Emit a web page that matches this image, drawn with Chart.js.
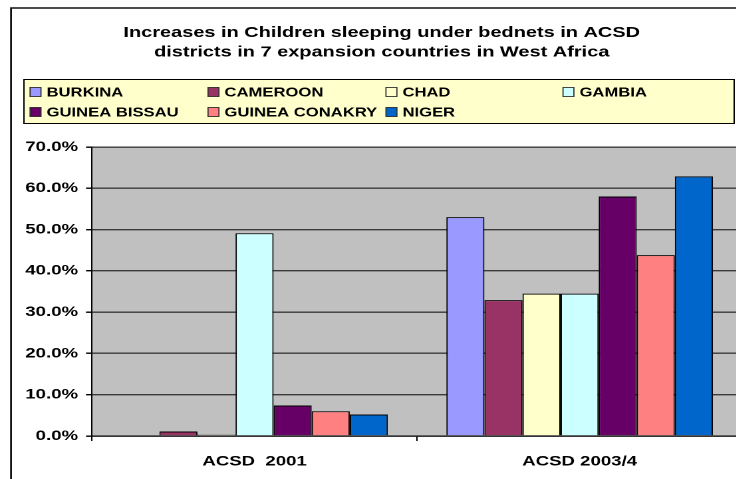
<!DOCTYPE html>
<html>
<head>
<meta charset="utf-8">
<title>Children sleeping under bednets – ACSD districts</title>
<script src="https://cdn.jsdelivr.net/npm/chart.js@4/dist/chart.umd.min.js"></script>
<style>
  html, body { margin: 0; padding: 0; background: #fff; overflow: hidden; width: 736px; height: 479px; }
  /* the chart is laid out narrow and widened, which gives the broad lettering */
  #wrap { position: absolute; left: 0; top: 0; width: 560px; height: 479px;
          transform: scaleX(1.33); transform-origin: 0 0; }
</style>
</head>
<body>
<div id="wrap"><canvas id="chart" width="560" height="479"></canvas></div>
<script>
// Survey rounds (x categories)
const rounds = ['ACSD  2001', 'ACSD 2003/4'];

// Countries, in legend order
const countries = ['BURKINA', 'CAMEROON', 'CHAD', 'GAMBIA', 'GUINEA BISSAU', 'GUINEA CONAKRY', 'NIGER'];

// Share of children sleeping under bednets (%), per country: [2001, 2003/4]
const burkina       = [0.0, 53.0];
const cameroon      = [1.1, 32.9];
const chad          = [0.3, 34.5];
const gambia        = [49.1, 34.5];
const guineaBissau  = [7.4, 58.0];
const guineaConakry = [6.0, 43.8];
const niger         = [5.2, 62.9];

const seriesValues = [burkina, cameroon, chad, gambia, guineaBissau, guineaConakry, niger];

// Classic office palette
const fillColours = ['#9999ff', '#993366', '#ffffcc', '#ccffff', '#660066', '#ff8080', '#0066cc'];

// Y axis ticks (%)
const yMin = 0, yMax = 70, yStep = 10;

const FONT = '"Liberation Sans", Arial, Helvetica, sans-serif';

// Page frame, grey plot background and the boxed legend
const decorations = {
  id: 'decorations',
  beforeDraw(chart) {
    const ctx = chart.ctx;
    const a = chart.chartArea;
    ctx.save();
    ctx.fillStyle = '#ffffff';
    ctx.fillRect(0, 0, chart.width, chart.height);
    // outer frame
    ctx.strokeStyle = '#111';
    ctx.lineWidth = 1.4;
    ctx.beginPath();
    ctx.moveTo(8.3, chart.height + 2);
    ctx.lineTo(8.3, 8);
    ctx.lineTo(chart.width + 2, 8);
    ctx.stroke();
    // plot background
    ctx.fillStyle = '#c0c0c0';
    ctx.fillRect(a.left, a.top, a.right - a.left, a.bottom - a.top);
    ctx.restore();
  },
  afterDraw(chart) {
    const ctx = chart.ctx;
    ctx.save();
    // legend box
    ctx.fillStyle = '#ffffcc';
    ctx.fillRect(18, 79, 534, 44);
    ctx.strokeStyle = '#000';
    ctx.lineWidth = 1;
    ctx.strokeRect(18, 79.5, 534, 44);
    const colX = [22.6, 156.4, 290.2, 423.3];
    const rowY = [92, 112];
    ctx.font = 'bold 12.5px ' + FONT;
    ctx.textBaseline = 'middle';
    ctx.textAlign = 'left';
    chart.data.datasets.forEach((ds, i) => {
      const x = colX[i % 4];
      const y = rowY[Math.floor(i / 4)];
      ctx.fillStyle = ds.backgroundColor;
      ctx.fillRect(x, y - 5, 8.2, 10);
      ctx.strokeStyle = '#333';
      ctx.lineWidth = 0.9;
      ctx.strokeRect(x, y - 4.5, 8.2, 9);
      ctx.fillStyle = '#000';
      ctx.fillText(ds.label, x + 12.4, y + 1);
    });
    ctx.restore();
  }
};

const datasets = countries.map((name, i) => ({
  label: name,
  data: seriesValues[i],
  backgroundColor: fillColours[i],
  borderColor: '#000',
  borderWidth: 1,
  borderSkipped: 'bottom',
  categoryPercentage: 0.82,
  barPercentage: 1.0
}));

new Chart(document.getElementById('chart'), {
  type: 'bar',
  data: { labels: rounds, datasets },
  plugins: [decorations],
  options: {
    responsive: false,
    maintainAspectRatio: false,
    devicePixelRatio: 2,
    animation: false,
    events: [],
    layout: { padding: { left: 16, right: 2, top: 0, bottom: 0 } },
    plugins: {
      legend: { display: false },
      tooltip: { enabled: false },
      title: {
        display: true,
        text: ['Increases in Children sleeping under bednets in ACSD',
               'districts in 7 expansion countries in West Africa'],
        color: '#000',
        font: { family: FONT, size: 15, weight: 'bold', lineHeight: 1.3 },
        padding: { top: 23.3, bottom: 84.7 }
      }
    },
    scales: {
      x: {
        offset: true,
        grid: {
          offset: true,
          drawOnChartArea: false,
          drawTicks: true,
          tickLength: 5,
          color: '#000'
        },
        border: { color: '#000', width: 1 },
        ticks: {
          color: '#000',
          padding: 12,
          font: { family: FONT, size: 14, weight: 'bold' }
        },
        afterFit(scale) { scale.height = 43; }
      },
      y: {
        min: yMin,
        max: yMax,
        grid: {
          color: '#3a3a3a',
          lineWidth: 1.4,
          tickLength: 4.5,
          tickColor: '#000'
        },
        border: { color: '#000', width: 1 },
        ticks: {
          stepSize: yStep,
          color: '#000',
          padding: 6,
          font: { family: FONT, size: 14, weight: 'bold' },
          callback: v => v.toFixed(1) + '%'
        },
        afterFit(scale) { scale.width = 53.2; }
      }
    }
  }
});
</script>
</body>
</html>
